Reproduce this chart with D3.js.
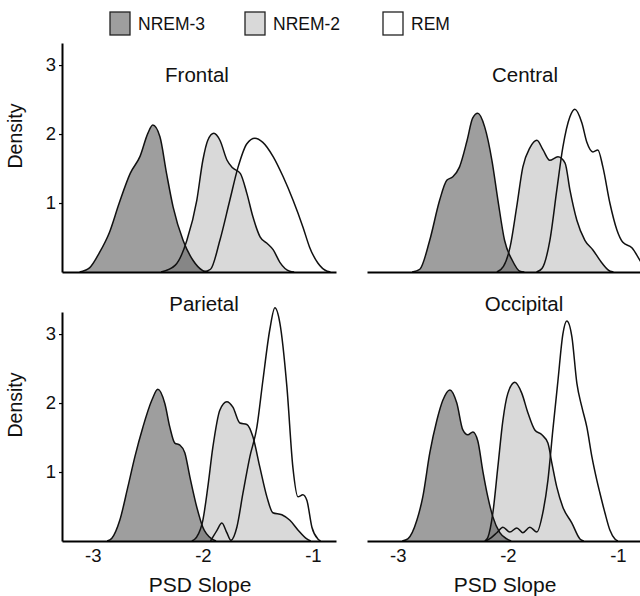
<!DOCTYPE html>
<html>
<head>
<meta charset="utf-8">
<script src="https://cdn.jsdelivr.net/npm/d3@7"></script>
<style>
  html, body { margin: 0; padding: 0; background: #fff; }
  svg { display: block; font-family: "Liberation Sans", Arial, sans-serif; }
</style>
</head>
<body>
<svg id="chart" width="640" height="596"></svg>
<script>
// ---------- data ----------
const categories = ["NREM-3", "NREM-2", "REM"];
const regions = ["Frontal", "Central", "Parietal", "Occipital"];
const xTicks = [-3, -2, -1];
const yTicks = [1, 2, 3];

// [PSD slope, density]
const frontalNREM3 = [[-3.12,0],[-3.03,0.06],[-2.94,0.28],[-2.85,0.57],[-2.76,1.0],[-2.66,1.43],[-2.57,1.68],[-2.50,2.01],[-2.455,2.13],[-2.39,1.96],[-2.33,1.43],[-2.27,0.94],[-2.18,0.46],[-2.09,0.17],[-2.0,0.02],[-1.95,0]];
const frontalNREM2 = [[-2.38,0],[-2.25,0.1],[-2.145,0.46],[-2.055,1.04],[-2.0,1.62],[-1.955,1.91],[-1.90,2.01],[-1.845,1.91],[-1.78,1.62],[-1.73,1.51],[-1.66,1.43],[-1.60,1.14],[-1.545,0.80],[-1.48,0.51],[-1.42,0.42],[-1.36,0.32],[-1.30,0.14],[-1.21,0.01],[-1.17,0]];
const frontalREM   = [[-2.0,0],[-1.93,0.04],[-1.845,0.46],[-1.755,1.04],[-1.68,1.52],[-1.60,1.86],[-1.527,1.94],[-1.455,1.88],[-1.36,1.67],[-1.27,1.38],[-1.18,1.04],[-1.09,0.65],[-1.03,0.36],[-0.955,0.13],[-0.87,0.01],[-0.84,0]];

const centralNREM3 = [[-2.87,0],[-2.80,0.04],[-2.71,0.46],[-2.62,1.04],[-2.555,1.33],[-2.50,1.38],[-2.44,1.52],[-2.37,1.91],[-2.32,2.23],[-2.273,2.30],[-2.21,2.10],[-2.145,1.62],[-2.09,1.04],[-2.03,0.46],[-1.96,0.17],[-1.89,0.01],[-1.85,0]];
const centralNREM2 = [[-2.10,0],[-2.04,0.08],[-1.98,0.36],[-1.92,0.94],[-1.864,1.52],[-1.80,1.80],[-1.736,1.91],[-1.68,1.77],[-1.62,1.62],[-1.545,1.67],[-1.48,1.58],[-1.436,1.19],[-1.373,0.75],[-1.30,0.46],[-1.227,0.32],[-1.145,0.13],[-1.07,0.01],[-1.04,0]];
const centralREM   = [[-1.74,0],[-1.69,0.05],[-1.618,0.46],[-1.555,1.19],[-1.50,1.81],[-1.436,2.25],[-1.391,2.36],[-1.327,2.16],[-1.282,1.88],[-1.227,1.74],[-1.182,1.77],[-1.136,1.52],[-1.073,1.0],[-1.009,0.61],[-0.955,0.43],[-0.873,0.35],[-0.80,0.17],[-0.75,0.04],[-0.71,0]];

const parietalNREM3 = [[-2.87,0],[-2.827,0.04],[-2.755,0.30],[-2.682,0.78],[-2.618,1.22],[-2.545,1.65],[-2.464,2.04],[-2.409,2.20],[-2.345,1.99],[-2.30,1.65],[-2.255,1.42],[-2.209,1.39],[-2.164,1.28],[-2.118,0.93],[-2.055,0.49],[-2.0,0.20],[-1.918,0.03],[-1.88,0]];
const parietalNREM2 = [[-2.10,0],[-2.055,0.06],[-2.0,0.30],[-1.955,0.78],[-1.909,1.36],[-1.845,1.90],[-1.782,2.02],[-1.727,1.94],[-1.664,1.71],[-1.60,1.69],[-1.545,1.51],[-1.482,1.07],[-1.418,0.64],[-1.364,0.41],[-1.282,0.38],[-1.209,0.30],[-1.136,0.16],[-1.055,0.03],[-1.02,0]];
const parietalREM   = [[-1.93,0],[-1.873,0.15],[-1.827,0.26],[-1.782,0.12],[-1.745,0.01],[-1.691,0.20],[-1.636,0.69],[-1.573,1.22],[-1.509,1.65],[-1.455,2.32],[-1.391,3.07],[-1.345,3.38],[-1.30,3.16],[-1.236,2.23],[-1.182,1.07],[-1.136,0.64],[-1.091,0.67],[-1.055,0.59],[-1.009,0.20],[-0.955,0.03],[-0.93,0]];

const occipitalNREM3 = [[-2.96,0],[-2.909,0.03],[-2.827,0.30],[-2.773,0.64],[-2.709,1.28],[-2.645,1.75],[-2.591,2.04],[-2.527,2.19],[-2.464,2.0],[-2.409,1.61],[-2.364,1.54],[-2.318,1.58],[-2.273,1.45],[-2.227,1.01],[-2.182,0.64],[-2.136,0.35],[-2.073,0.12],[-2.009,0.03],[-1.97,0]];
const occipitalNREM2 = [[-2.21,0],[-2.182,0.05],[-2.136,0.41],[-2.091,1.07],[-2.045,1.75],[-2.0,2.14],[-1.936,2.30],[-1.873,2.14],[-1.818,1.86],[-1.755,1.61],[-1.691,1.54],[-1.636,1.42],[-1.60,1.13],[-1.555,0.78],[-1.50,0.49],[-1.418,0.26],[-1.345,0.03],[-1.31,0]];
const occipitalREM   = [[-2.20,0],[-2.15,0.05],[-2.10,0.12],[-2.045,0.20],[-1.982,0.13],[-1.918,0.19],[-1.864,0.12],[-1.80,0.20],[-1.736,0.13],[-1.682,0.41],[-1.636,0.88],[-1.591,1.61],[-1.545,2.32],[-1.50,3.0],[-1.464,3.19],[-1.418,2.96],[-1.373,2.29],[-1.327,1.94],[-1.282,1.65],[-1.236,1.22],[-1.191,0.88],[-1.164,0.70],[-1.118,0.41],[-1.073,0.16],[-1.027,0.03],[-1.0,0]];

const panelSeries = [
  [frontalNREM3, frontalNREM2, frontalREM],
  [centralNREM3, centralNREM2, centralREM],
  [parietalNREM3, parietalNREM2, parietalREM],
  [occipitalNREM3, occipitalNREM2, occipitalREM]
];

// ---------- layout / style ----------
const svg = d3.select("#chart");
const W = 274, H = 229;
const panelPos = [
  {left: 62, top: 43, titleX: 197, titleY: 82, yAxis: true, xLabels: false},
  {left: 367, top: 43, titleX: 525, titleY: 82, yAxis: false, xLabels: false},
  {left: 62, top: 312, titleX: 204, titleY: 311, yAxis: true, xLabels: true},
  {left: 367, top: 312, titleX: 524, titleY: 311, yAxis: false, xLabels: true}
];
const fillOpacity = [0.38, 0.15, 0];

const x = d3.scaleLinear().domain([-3.28, -0.79]).range([0, W]);
const y = d3.scaleLinear().domain([0, 3.32]).range([H, 0]);

const area = d3.area().x(d => x(d[0])).y0(y(0)).y1(d => y(d[1])).curve(d3.curveMonotoneX);
const line = d3.line().x(d => x(d[0])).y(d => y(d[1])).curve(d3.curveMonotoneX);

svg.append("defs").append("clipPath").attr("id", "clipx")
  .append("rect").attr("x", 0).attr("y", -40).attr("width", W).attr("height", H + 40);

panelPos.forEach((p, i) => {
  const g = svg.append("g").attr("transform", `translate(${p.left},${p.top})`);
  const plot = g.append("g").attr("clip-path", "url(#clipx)");
  panelSeries[i].forEach((s, k) => {
    plot.append("path").datum(s).attr("d", area)
      .attr("fill", "#000").attr("fill-opacity", fillOpacity[k]).attr("stroke", "none");
  });
  panelSeries[i].forEach((s) => {
    plot.append("path").datum(s).attr("d", line)
      .attr("fill", "none").attr("stroke", "#111").attr("stroke-width", 1.5);
  });

  // x axis
  const xa = d3.axisBottom(x).tickValues(xTicks).tickSize(0).tickSizeOuter(0).tickPadding(8)
    .tickFormat(p.xLabels ? d3.format("d") : () => "");
  const gx = g.append("g").attr("transform", `translate(0,${H})`).call(xa);
  gx.select(".domain").attr("stroke", "#000").attr("stroke-width", 2);
  gx.selectAll("text").attr("font-size", 18.5).attr("fill", "#111")
    .text(d => p.xLabels ? String(d) : "");

  if (p.yAxis) {
    const ya = d3.axisLeft(y).tickValues(yTicks).tickSize(3).tickSizeOuter(0).tickPadding(3).tickFormat(d3.format("d"));
    const gy = g.append("g").call(ya);
    gy.select(".domain").attr("stroke", "#000").attr("stroke-width", 2);
    gy.selectAll(".tick line").attr("stroke", "#000").attr("stroke-width", 1.2);
    gy.selectAll("text").attr("font-size", 18.5).attr("fill", "#111");
    svg.append("text")
      .attr("transform", `translate(${p.left - 40},${p.top + 93}) rotate(-90)`)
      .attr("text-anchor", "middle").attr("font-size", 19.5).attr("fill", "#111")
      .text("Density");
  }

  svg.append("text").attr("x", p.titleX).attr("y", p.titleY)
    .attr("text-anchor", "middle").attr("font-size", 20.5).attr("fill", "#111")
    .text(regions[i]);

  if (p.xLabels) {
    svg.append("text").attr("x", p.left + W / 2 + 1).attr("y", p.top + H + 51)
      .attr("text-anchor", "middle").attr("font-size", 21).attr("fill", "#111")
      .text("PSD Slope");
  }
});

// legend
const legendX = [110, 245, 383];
const legend = svg.append("g");
categories.forEach((c, k) => {
  legend.append("rect").attr("x", legendX[k]).attr("y", 12).attr("width", 20).attr("height", 23)
    .attr("fill", k === 2 ? "#fff" : "#000").attr("fill-opacity", k === 2 ? 1 : fillOpacity[k])
    .attr("stroke", "#222").attr("stroke-width", 1.3);
  legend.append("text").attr("x", legendX[k] + 28).attr("y", 30)
    .attr("font-size", 17.5).attr("fill", "#111").text(c);
});
</script>
</body>
</html>
